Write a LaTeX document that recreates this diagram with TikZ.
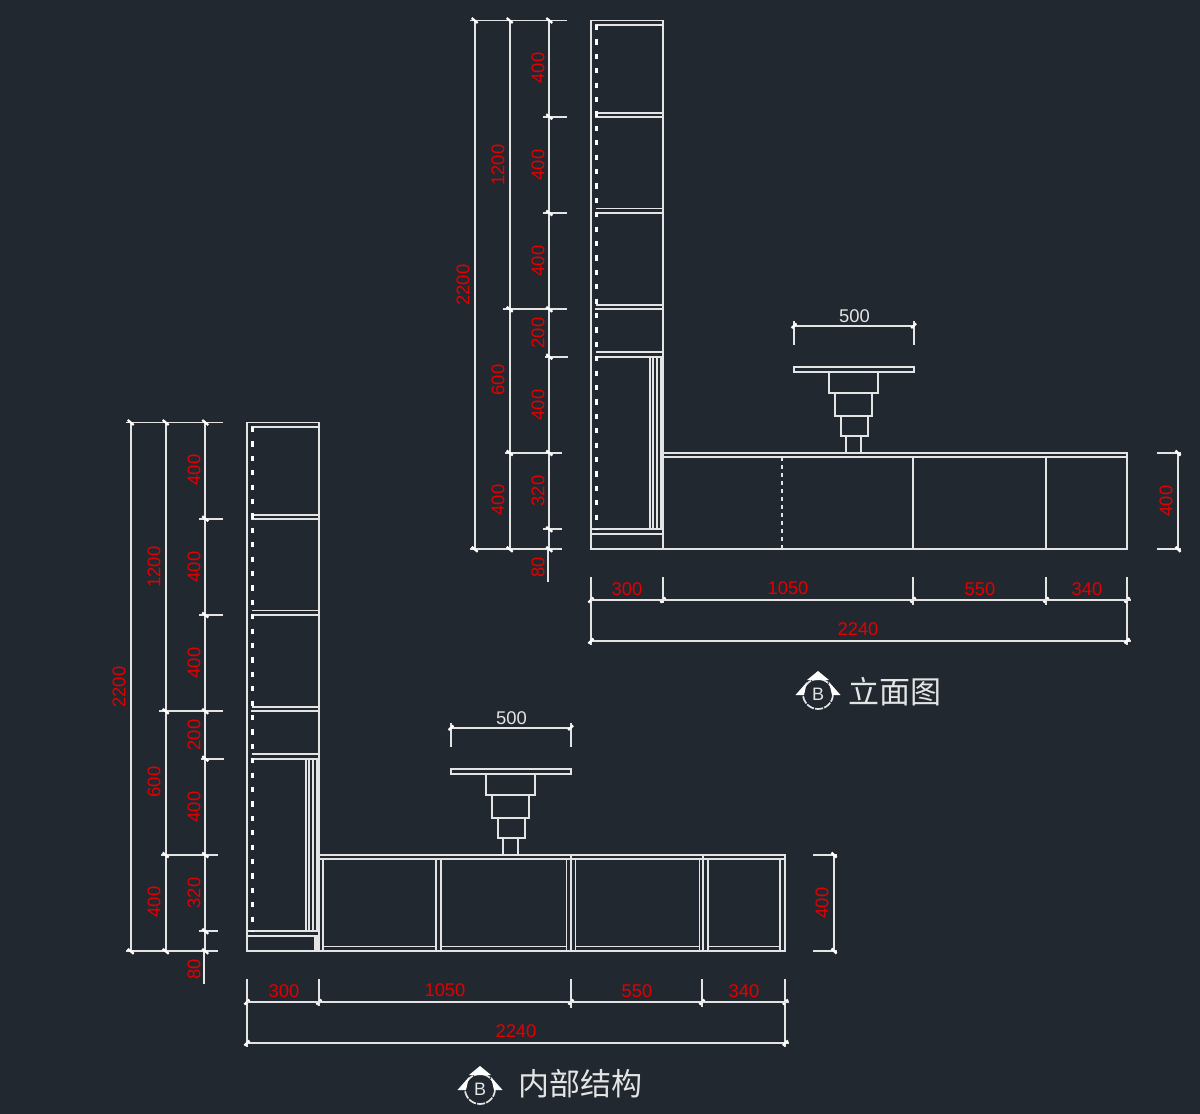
\documentclass[tikz,border=0pt]{standalone}
\usepackage{fontspec}
\setmainfont{Liberation Sans}
\newfontfamily\cjk{Noto Sans CJK SC}
\definecolor{bgdark}{RGB}{33,40,48}
\definecolor{linewhite}{RGB}{228,228,228}
\definecolor{dimred}{RGB}{226,0,0}
\tikzset{
  part/.style={draw=linewhite, line width=0.9pt},
  dimline/.style={draw=linewhite, line width=0.85pt},
  dimtick/.style={draw=white, line width=1.1pt},
  hiddenthick/.style={draw=white, line width=1.5pt, dash pattern=on 2.6pt off 4.6pt},
  hiddenthin/.style={draw=linewhite, line width=0.7pt, dash pattern=on 1.8pt off 2.2pt},
  dimh/.style={text=dimred, inner sep=0pt, font=\fontsize{9.2}{10}\selectfont},
  dimv/.style={dimh, rotate=90},
  dimw/.style={dimh, text=linewhite},
  caption/.style={text=linewhite, inner sep=0pt, anchor=west, font=\cjk\fontsize{15.5}{16}\selectfont},
  viewmark/.style={text=linewhite, inner sep=0pt, font=\fontsize{9}{9}\selectfont}
}
\begin{document}
\begin{tikzpicture}[x=0.5pt, y=-0.5pt]

% Background fixes the page size
\fill[bgdark] (0,0) rectangle (1200,1114);
\useasboundingbox (0,0) rectangle (1200,1114);

% Tall case, dimension chain and basin are the same in both views
\foreach \vw/\dx/\dy/\sx in {elev/0/0/0, inner/-344/402/-343} {
\begin{scope}[shift={(\dx,\dy)}, name prefix=\vw-]

  % Tall case outline
  \draw[part] (591,549.3) -- (591,20.5) -- (663,20.5) -- (663,549.3) -- cycle;
  \draw[part] (595,25) -- (663,25);

  % Shelves
  \foreach \ya/\yb in {112.6/116.7, 208.4/212.7, 305/309.3, 352.3/356.7} {
    \draw[part] (596,\ya) -- (663,\ya);
    \draw[part] (595,\yb) -- (663,\yb);
  }

  % Lower section
  \draw[part] (591,529.3) -- (663,529.3);
  \draw[part] (591,534) -- (663,534);
  \foreach \x in {650,653.3,657.3,660.7} {
    \draw[part] (\x,356.7) -- (\x,529.3);
  }

  % Hidden edge of the case
  \draw[hiddenthick] (596,25) -- (596,530);

  % Height chain
  \draw[dimline] (474.7,20.5) -- (474.7,549.3);
  \draw[dimline] (509.7,20.5) -- (509.7,549.3);
  \draw[dimline] (549.3,20.5) -- (549.3,549.3);
  \draw[dimline] (548,549.3) -- (548,582);
  \draw[dimline] (470,20.5) -- (567,20.5);
  \draw[dimline] (543,116.7) -- (567,116.7);
  \draw[dimline] (543,213) -- (567,213);
  \draw[dimline] (503,309.3) -- (567,309.3);
  \draw[dimline] (545,356.7) -- (568,356.7);
  \draw[dimline] (505,453) -- (562,453);
  \draw[dimline] (543,529.3) -- (562,529.3);
  \draw[dimline] (470,549.3) -- (562,549.3);

  % Ticks on the height chain
  \foreach \x/\y in {474.7/20.5, 509.7/20.5, 549.3/20.5, 549.3/116.7, 549.3/213,
                     509.7/309.3, 549.3/309.3, 549.3/356.7, 509.7/453, 549.3/453,
                     549.3/529.3, 474.7/549.3, 509.7/549.3, 549.3/549.3} {
    \draw[dimtick] (\x-3,\y-2.5) -- (\x+3,\y+2.5);
  }

  % Height labels
  \node[dimv] (h400a) at (538,68) {400};
  \node[dimv] (h400b) at (538,165) {400};
  \node[dimv] (h400c) at (538,261) {400};
  \node[dimv] (h200) at (538,333) {200};
  \node[dimv] (h400d) at (538,405) {400};
  \node[dimv] (h320) at (538,491) {320};
  \node[dimv] (h80) at (538,567) {80};
  \node[dimv] (h1200) at (498,165) {1200};
  \node[dimv] (h600) at (498,380) {600};
  \node[dimv] (h400e) at (498,500) {400};
  \node[dimv] (h2200) at (463,285) {2200};

\end{scope}

% Basin on its stepped stand
\begin{scope}[shift={(\sx,\dy)}, name prefix=\vw-]
  \draw[part] (794,367.3) rectangle (913.7,372.3);
  \draw[part] (829,372.3) rectangle (878.3,393.3);
  \draw[part] (835.3,393.3) rectangle (872.3,416.3);
  \draw[part] (841.3,416.3) rectangle (868,436.3);
  \draw[part] (846,436.3) -- (846,453);
  \draw[part] (861.3,436.3) -- (861.3,453);

  % Basin width
  \draw[dimline] (794,321) -- (794,345);
  \draw[dimline] (913.7,321) -- (913.7,345);
  \draw[dimline] (794,325.7) -- (913.7,325.7);
  \draw[dimtick] (791.5,328) -- (796.5,323.5);
  \draw[dimtick] (911.2,328) -- (916.2,323.5);
  \node[dimw] (w500) at (854.5,316) {500};
\end{scope}
}

% Elevation: low cabinets
\draw[part] (663,453.3) -- (1127,453.3) -- (1127,549.3) -- (663,549.3);
\draw[part] (663,457.3) -- (1127,457.3);
\draw[hiddenthin] (782,457.3) -- (782,549.3);
\draw[part] (913,457.3) -- (913,549.3);
\draw[part] (1046,457.3) -- (1046,549.3);

% Elevation: widths
\foreach \x/\ya/\yb in {591/577/645, 663/577/603, 913/577/605, 1046/577/605, 1127/577/645} {
  \draw[dimline] (\x,\ya) -- (\x,\yb);
  \draw[dimtick] (\x-2.5,602.5) -- (\x+2.5,597.5);
}
\draw[dimline] (591,600) -- (1131,600);
\draw[dimline] (591,641) -- (1131,641);
\draw[dimtick] (588.5,643.5) -- (593.5,638.5);
\draw[dimtick] (1124.5,643.5) -- (1129.5,638.5);
\node[dimh] (e300) at (627,589.5) {300};
\node[dimh] (e1050) at (788,588.5) {1050};
\node[dimh] (e550) at (980,589.5) {550};
\node[dimh] (e340) at (1087,589.5) {340};
\node[dimh] (e2240) at (858,629.5) {2240};

% Elevation: cabinet height
\draw[dimline] (1157,453) -- (1181,453);
\draw[dimline] (1157,549.3) -- (1181,549.3);
\draw[dimline] (1178,453) -- (1178,549.3);
\draw[dimtick] (1175.5,450.5) -- (1180.5,455.5);
\draw[dimtick] (1175.5,546.8) -- (1180.5,551.8);
\node[dimv] (e400) at (1166,501) {400};

% Inner view: extra panels under the case
\foreach \x in {314.7,317.3} {
  \draw[part] (\x,936) -- (\x,951);
}

% Inner view: low cabinets
\draw[part] (319,855) -- (785.3,855) -- (785.3,951) -- (319,951);
\draw[part] (319,859.3) -- (785.3,859.3);
\foreach \xa/\xb in {323.3/436, 441.3/566.5, 575.5/699.5, 708/780} {
  \draw[part] (\xa,946.5) -- (\xb,946.5);
}
\foreach \x in {323.3,436,441.3,566.5,575.5,699.5,708,780} {
  \draw[part] (\x,859.3) -- (\x,951);
}
\foreach \x in {571,703} {
  \draw[part] (\x,855) -- (\x,951);
}

% Inner view: widths
\foreach \x/\ya/\yb in {247/979/1047, 319/979/1006, 571/979/1008, 702/979/1007, 785.3/979/1047} {
  \draw[dimline] (\x,\ya) -- (\x,\yb);
  \draw[dimtick] (\x-2.5,1004.5) -- (\x+2.5,999.5);
}
\draw[dimline] (247,1002) -- (789,1002);
\draw[dimline] (247,1043) -- (789,1043);
\draw[dimtick] (244.5,1045.5) -- (249.5,1040.5);
\draw[dimtick] (782.8,1045.5) -- (787.8,1040.5);
\node[dimh] (i300) at (284,991) {300};
\node[dimh] (i1050) at (445,990) {1050};
\node[dimh] (i550) at (637,991) {550};
\node[dimh] (i340) at (744,991) {340};
\node[dimh] (i2240) at (516,1031) {2240};

% Inner view: cabinet height
\draw[dimline] (813,855) -- (837,855);
\draw[dimline] (813,951) -- (837,951);
\draw[dimline] (834,855) -- (834,951);
\draw[dimtick] (831.5,852.5) -- (836.5,857.5);
\draw[dimtick] (831.5,948.5) -- (836.5,953.5);
\node[dimv] (i400) at (822,903) {400};

% View marks with captions
\foreach \vw/\cx/\cy in {elev/818/694, inner/480/1089} {
  \draw[dimline, dash pattern=on 4pt off 0.6pt] (\cx,\cy) circle (15);
  \fill[white] (\cx,\cy-23) -- (\cx+11,\cy-14) -- (\cx-11,\cy-14) -- cycle;
  \fill[white] (\cx-22.5,\cy+1) -- (\cx-11,\cy-12) -- (\cx-14,\cy+1) -- cycle;
  \fill[white] (\cx+22.5,\cy+1) -- (\cx+11,\cy-12) -- (\cx+14,\cy+1) -- cycle;
  \node[viewmark] (\vw-mark) at (\cx,\cy) {B};
}
\node[caption] (title-elev) at (848,692) {立面图};
\node[caption] (title-inner) at (518,1084) {内部结构};

\end{tikzpicture}
\end{document}
